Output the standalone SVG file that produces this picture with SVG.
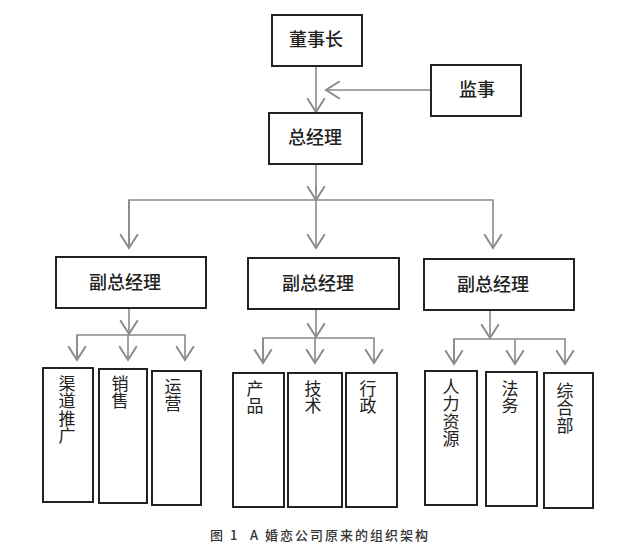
<svg xmlns="http://www.w3.org/2000/svg" width="626" height="550" viewBox="0 0 626 550">
<style>
.box{fill:#fff;stroke:#222;stroke-width:2}
.lbl{font-family:"Noto Sans CJK SC","Noto Sans CJK TC",sans-serif;font-size:18px;fill:#222;text-anchor:middle;font-weight:500}
.vl{font-family:"Noto Sans CJK SC","Noto Sans CJK TC",sans-serif;font-size:17px;fill:#222;writing-mode:vertical-rl;letter-spacing:0.5px}
.cn{fill:none;stroke:#8a8a8a;stroke-width:1.6}
.cap{font-family:"Noto Sans CJK SC","Liberation Sans",sans-serif;font-size:13px;fill:#333;font-weight:500;letter-spacing:2px}
</style>
<defs>
<marker id="ar" markerUnits="userSpaceOnUse" markerWidth="20" markerHeight="20" viewBox="-12 -8 14 16" refX="0" refY="0" orient="auto">
<path d="M-11,-7 L0,0 L-11,7" fill="none" stroke="#8a8a8a" stroke-width="1.6"/>
</marker>
</defs>
<rect width="626" height="550" fill="#fff"/>
<g id="connectors">
<path class="cn" d="M316,66 V112" marker-end="url(#ar)"/>
<path class="cn" d="M431,90 H326" marker-end="url(#ar)"/>
<path class="cn" d="M316,164 V192"/>
<path class="cn" d="M316,186 V200" marker-end="url(#ar)"/>
<path class="cn" d="M129,248 V200 H493 V248" marker-end="url(#ar)"/>
<path class="cn" d="M129,200 V248" marker-end="url(#ar)"/>
<path class="cn" d="M316,200 V248" marker-end="url(#ar)"/>
<path class="cn" d="M129,308 V334" marker-end="url(#ar)"/>
<path class="cn" d="M77,360 V335 H185 V360" marker-end="url(#ar)"/>
<path class="cn" d="M77,335 V360" marker-end="url(#ar)"/>
<path class="cn" d="M128,335 V360" marker-end="url(#ar)"/>
<path class="cn" d="M316,309 V337" marker-end="url(#ar)"/>
<path class="cn" d="M263,363 V338 H374 V363" marker-end="url(#ar)"/>
<path class="cn" d="M263,338 V363" marker-end="url(#ar)"/>
<path class="cn" d="M315,338 V363" marker-end="url(#ar)"/>
<path class="cn" d="M490,310 V338" marker-end="url(#ar)"/>
<path class="cn" d="M454,364 V339 H565 V364" marker-end="url(#ar)"/>
<path class="cn" d="M454,339 V364" marker-end="url(#ar)"/>
<path class="cn" d="M515,339 V364" marker-end="url(#ar)"/>
</g>
<g id="chairman"><rect class="box" x="272" y="15" width="90" height="51"/><text class="lbl" x="316" y="46">董事长</text></g>
<g id="supervisor"><rect class="box" x="431" y="65" width="90" height="51"/><text class="lbl" x="477" y="96">监事</text></g>
<g id="gm"><rect class="box" x="269" y="113" width="93" height="51"/><text class="lbl" x="315" y="144">总经理</text></g>
<g id="vp1"><rect class="box" x="56" y="257" width="150" height="51"/><text class="lbl" x="125" y="289">副总经理</text></g>
<g id="vp2"><rect class="box" x="248" y="258" width="151" height="51"/><text class="lbl" x="318" y="290">副总经理</text></g>
<g id="vp3"><rect class="box" x="424" y="259" width="150" height="51"/><text class="lbl" x="493" y="291">副总经理</text></g>
<g id="d1"><rect class="box" x="43" y="368" width="50" height="134"/><text class="vl" x="67" y="375">渠道推广</text></g>
<g id="d2"><rect class="box" x="99" y="369" width="48" height="134"/><text class="vl" x="120" y="375">销售</text></g>
<g id="d3"><rect class="box" x="152" y="371" width="49" height="134"/><text class="vl" x="173" y="378">运营</text></g>
<g id="d4"><rect class="box" x="233" y="373" width="51" height="134"/><text class="vl" x="255" y="380">产品</text></g>
<g id="d5"><rect class="box" x="288" y="373" width="54" height="134"/><text class="vl" x="313" y="380">技术</text></g>
<g id="d6"><rect class="box" x="346" y="373" width="51" height="134"/><text class="vl" x="368" y="380">行政</text></g>
<g id="d7"><rect class="box" x="425" y="371" width="52" height="134"/><text class="vl" x="451" y="378">人力资源</text></g>
<g id="d8"><rect class="box" x="486" y="372" width="51" height="134"/><text class="vl" x="510" y="380">法务</text></g>
<g id="d9"><rect class="box" x="544" y="373" width="49" height="135"/><text class="vl" x="565" y="382">综合部</text></g>
<g id="caption"><text class="cap" x="210" y="540">图 1</text><text class="cap" x="250" y="540">A 婚恋公司原来的组织架构</text></g>
</svg>
